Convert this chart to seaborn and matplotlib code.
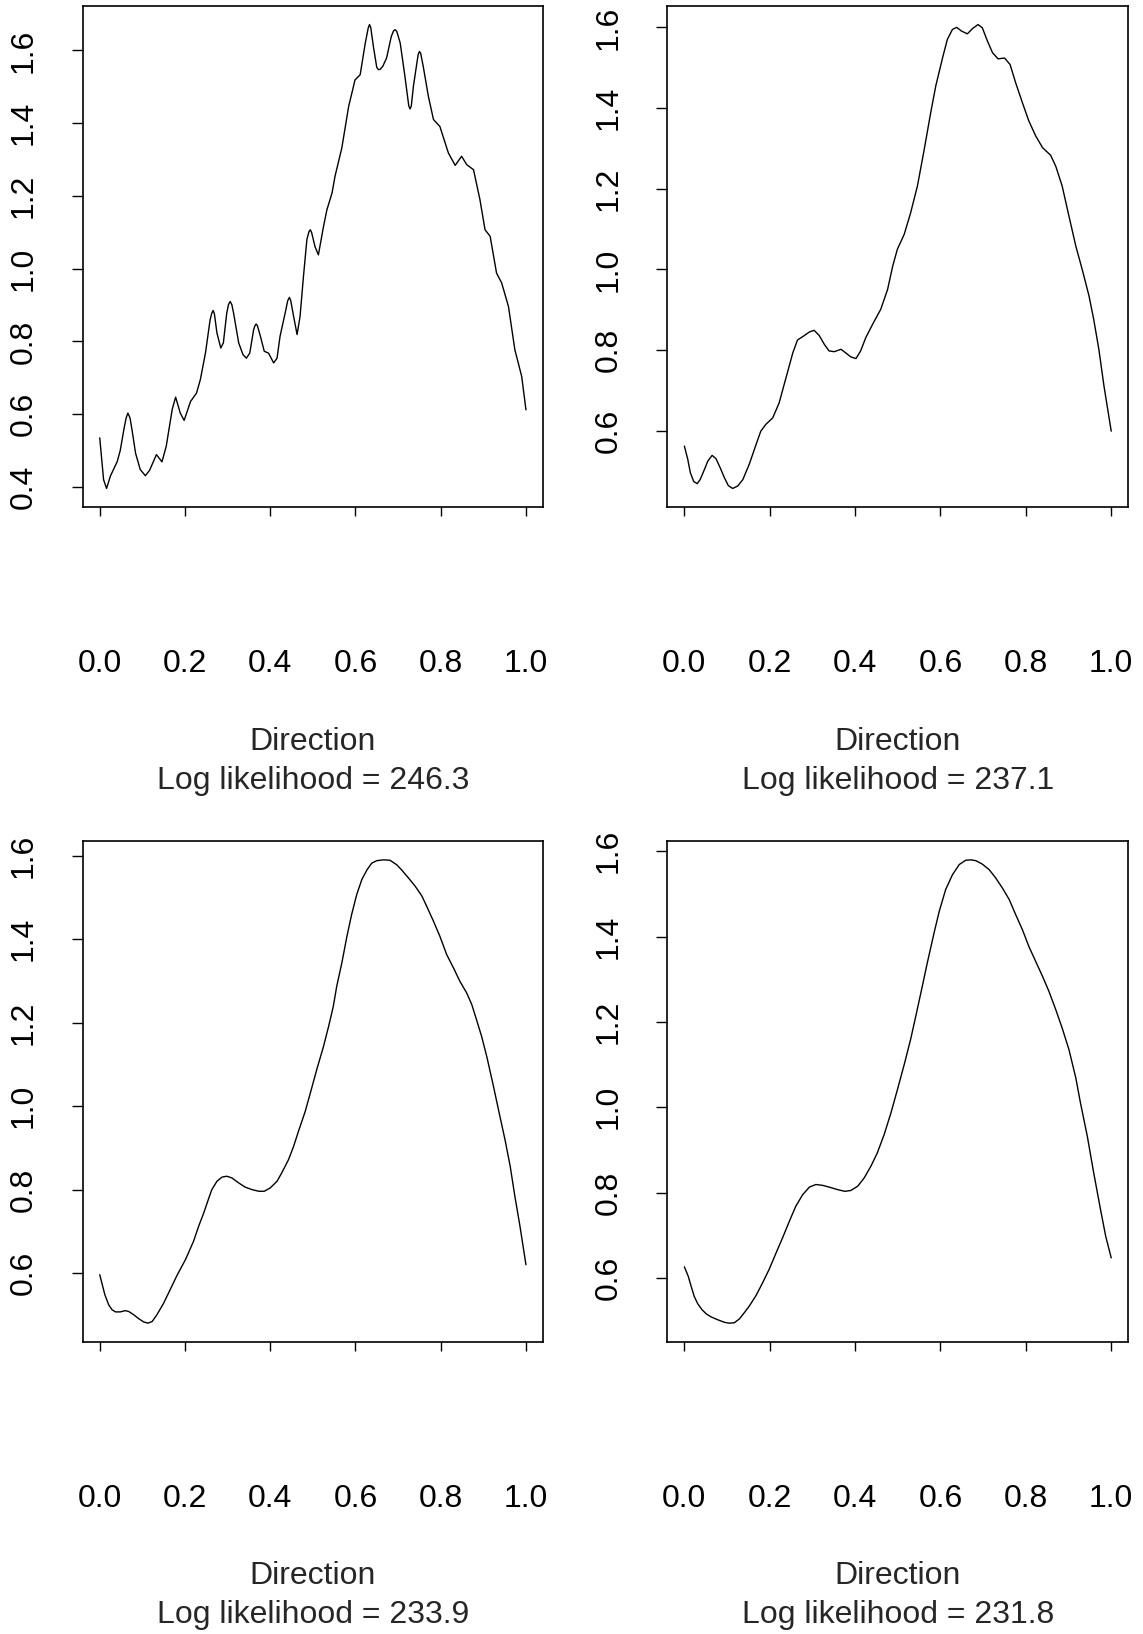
import matplotlib
matplotlib.use("Agg")
import matplotlib.pyplot as plt
import seaborn as sns
import pandas as pd

# Estimated density of direction under four model fits: (direction, density)
fit1 = [(0.000, 0.535), (0.009, 0.420), (0.016, 0.396), (0.025, 0.430), (0.041, 0.470),
        (0.048, 0.500), (0.058, 0.567), (0.062, 0.590), (0.066, 0.603), (0.071, 0.590),
        (0.076, 0.555), (0.084, 0.493), (0.095, 0.448), (0.107, 0.431), (0.117, 0.446),
        (0.133, 0.489), (0.146, 0.469), (0.156, 0.512), (0.170, 0.613), (0.178, 0.647),
        (0.189, 0.603), (0.198, 0.583), (0.213, 0.635), (0.227, 0.658), (0.236, 0.695),
        (0.248, 0.768), (0.259, 0.860), (0.263, 0.878), (0.266, 0.885), (0.269, 0.876),
        (0.275, 0.823), (0.284, 0.782), (0.290, 0.796), (0.298, 0.878), (0.302, 0.901),
        (0.306, 0.910), (0.310, 0.901), (0.314, 0.878), (0.326, 0.796), (0.336, 0.764),
        (0.344, 0.754), (0.352, 0.768), (0.361, 0.832), (0.364, 0.843), (0.367, 0.848),
        (0.370, 0.843), (0.377, 0.814), (0.386, 0.773), (0.396, 0.768), (0.408, 0.741),
        (0.416, 0.754), (0.423, 0.814), (0.435, 0.878), (0.441, 0.912), (0.445, 0.921),
        (0.448, 0.913), (0.455, 0.868), (0.463, 0.819), (0.470, 0.869), (0.478, 0.979),
        (0.486, 1.080), (0.491, 1.102), (0.494, 1.107), (0.497, 1.100), (0.505, 1.061),
        (0.513, 1.038), (0.525, 1.116), (0.533, 1.162), (0.545, 1.208), (0.552, 1.254),
        (0.568, 1.332), (0.584, 1.446), (0.599, 1.519), (0.611, 1.533), (0.623, 1.620),
        (0.630, 1.662), (0.633, 1.671), (0.636, 1.662), (0.642, 1.611), (0.650, 1.553),
        (0.654, 1.547), (0.658, 1.548), (0.664, 1.556), (0.673, 1.579), (0.684, 1.638),
        (0.689, 1.653), (0.693, 1.657), (0.697, 1.652), (0.705, 1.620), (0.716, 1.529),
        (0.725, 1.448), (0.728, 1.439), (0.731, 1.447), (0.736, 1.502), (0.747, 1.588),
        (0.750, 1.597), (0.753, 1.592), (0.759, 1.556), (0.771, 1.474), (0.783, 1.410),
        (0.798, 1.391), (0.818, 1.318), (0.834, 1.284), (0.849, 1.309), (0.861, 1.286),
        (0.877, 1.272), (0.892, 1.190), (0.904, 1.107), (0.916, 1.089), (0.931, 0.988),
        (0.943, 0.961), (0.959, 0.896), (0.974, 0.777), (0.990, 0.704), (1.000, 0.612)]

fit2 = [(0.000, 0.562), (0.008, 0.529), (0.014, 0.496), (0.022, 0.474), (0.030, 0.469),
        (0.037, 0.479), (0.047, 0.504), (0.055, 0.525), (0.065, 0.539), (0.074, 0.531),
        (0.084, 0.508), (0.094, 0.483), (0.103, 0.464), (0.113, 0.457), (0.125, 0.463),
        (0.137, 0.479), (0.152, 0.517), (0.168, 0.566), (0.179, 0.599), (0.191, 0.616),
        (0.207, 0.632), (0.222, 0.669), (0.238, 0.731), (0.254, 0.793), (0.265, 0.825),
        (0.281, 0.836), (0.293, 0.845), (0.304, 0.849), (0.316, 0.836), (0.328, 0.814),
        (0.339, 0.798), (0.351, 0.796), (0.367, 0.802), (0.378, 0.793), (0.390, 0.783),
        (0.402, 0.779), (0.413, 0.798), (0.425, 0.831), (0.441, 0.864), (0.460, 0.901),
        (0.476, 0.950), (0.488, 1.008), (0.499, 1.050), (0.515, 1.087), (0.530, 1.140),
        (0.546, 1.207), (0.562, 1.298), (0.577, 1.388), (0.589, 1.455), (0.605, 1.525),
        (0.616, 1.570), (0.628, 1.595), (0.638, 1.600), (0.649, 1.591), (0.663, 1.584),
        (0.675, 1.597), (0.688, 1.607), (0.698, 1.599), (0.710, 1.566), (0.722, 1.537),
        (0.735, 1.522), (0.750, 1.524), (0.763, 1.508), (0.776, 1.463), (0.792, 1.413),
        (0.807, 1.368), (0.823, 1.331), (0.839, 1.302), (0.858, 1.283), (0.870, 1.256),
        (0.885, 1.207), (0.901, 1.132), (0.917, 1.058), (0.932, 1.000), (0.948, 0.934),
        (0.959, 0.876), (0.971, 0.802), (0.983, 0.711), (1.000, 0.599)]

fit3 = [(0.000, 0.596), (0.006, 0.572), (0.012, 0.548), (0.021, 0.524), (0.029, 0.512),
        (0.037, 0.507), (0.048, 0.507), (0.060, 0.510), (0.068, 0.508), (0.080, 0.500),
        (0.091, 0.491), (0.103, 0.483), (0.113, 0.480), (0.123, 0.484), (0.134, 0.500),
        (0.150, 0.528), (0.166, 0.562), (0.181, 0.594), (0.201, 0.632), (0.220, 0.676),
        (0.232, 0.712), (0.244, 0.744), (0.256, 0.780), (0.263, 0.800), (0.275, 0.820),
        (0.287, 0.830), (0.298, 0.832), (0.310, 0.828), (0.326, 0.816), (0.341, 0.806),
        (0.357, 0.800), (0.373, 0.796), (0.386, 0.796), (0.400, 0.804), (0.416, 0.820),
        (0.427, 0.840), (0.443, 0.872), (0.455, 0.904), (0.466, 0.939), (0.482, 0.987),
        (0.494, 1.031), (0.509, 1.087), (0.525, 1.143), (0.537, 1.191), (0.548, 1.239),
        (0.556, 1.287), (0.568, 1.343), (0.580, 1.407), (0.591, 1.459), (0.603, 1.507),
        (0.615, 1.543), (0.627, 1.566), (0.638, 1.582), (0.650, 1.588), (0.666, 1.590),
        (0.681, 1.589), (0.697, 1.578), (0.709, 1.565), (0.724, 1.547), (0.740, 1.527),
        (0.756, 1.503), (0.767, 1.479), (0.783, 1.443), (0.798, 1.407), (0.814, 1.363),
        (0.830, 1.331), (0.845, 1.299), (0.861, 1.271), (0.873, 1.243), (0.884, 1.207),
        (0.896, 1.167), (0.908, 1.119), (0.923, 1.051), (0.939, 0.975), (0.951, 0.919),
        (0.963, 0.856), (0.974, 0.784), (0.986, 0.712), (1.000, 0.620)]

fit4 = [(0.000, 0.626), (0.009, 0.604), (0.016, 0.580), (0.023, 0.557), (0.031, 0.540),
        (0.041, 0.526), (0.051, 0.516), (0.062, 0.509), (0.078, 0.502), (0.094, 0.496),
        (0.105, 0.494), (0.117, 0.495), (0.129, 0.504), (0.140, 0.518), (0.152, 0.534),
        (0.168, 0.559), (0.183, 0.588), (0.199, 0.621), (0.215, 0.659), (0.230, 0.694),
        (0.246, 0.733), (0.261, 0.768), (0.277, 0.795), (0.293, 0.813), (0.308, 0.819),
        (0.324, 0.817), (0.339, 0.813), (0.359, 0.807), (0.376, 0.803), (0.390, 0.805),
        (0.406, 0.815), (0.421, 0.834), (0.437, 0.862), (0.452, 0.893), (0.468, 0.936),
        (0.484, 0.987), (0.499, 1.041), (0.515, 1.100), (0.530, 1.159), (0.542, 1.213),
        (0.554, 1.268), (0.569, 1.338), (0.585, 1.409), (0.597, 1.459), (0.612, 1.510),
        (0.628, 1.545), (0.644, 1.569), (0.659, 1.579), (0.671, 1.580), (0.683, 1.578),
        (0.698, 1.570), (0.714, 1.557), (0.729, 1.538), (0.745, 1.514), (0.761, 1.487),
        (0.776, 1.452), (0.792, 1.416), (0.807, 1.377), (0.823, 1.342), (0.839, 1.307),
        (0.854, 1.272), (0.870, 1.229), (0.885, 1.186), (0.901, 1.135), (0.917, 1.069),
        (0.928, 1.010), (0.944, 0.932), (0.959, 0.846), (0.975, 0.760), (0.987, 0.698),
        (1.000, 0.647)]

log_likelihoods = [246.3, 237.1, 233.9, 231.8]
x_ticks = [0.0, 0.2, 0.4, 0.6, 0.8, 1.0]
y_ticks = [0.4, 0.6, 0.8, 1.0, 1.2, 1.4, 1.6]

sns.set_style("ticks")
plt.rcParams["font.family"] = ["Liberation Sans", "DejaVu Sans"]
FS = 23

W, H = 1143, 1634
fig = plt.figure(figsize=(W / 100, H / 100), dpi=100)
fig.patch.set_facecolor("white")

# panel boxes in pixels: (left, top, right, bottom)
boxes = [(82.7, 6.0, 543.0, 507.0), (667.3, 6.0, 1128.3, 507.0),
         (82.7, 841.3, 543.0, 1341.7), (667.3, 841.3, 1128.3, 1341.7)]
fits = [fit1, fit2, fit3, fit4]

for (l, t, r, b), fit, ll in zip(boxes, fits, log_likelihoods):
    ax = fig.add_axes([l / W, 1 - b / H, (r - l) / W, (b - t) / H])
    df = pd.DataFrame(fit, columns=["Direction", "Density"])
    sns.lineplot(data=df, x="Direction", y="Density", ax=ax, color="black",
                 linewidth=1.0, estimator=None, sort=False)
    lo, hi = df["Density"].min(), df["Density"].max()
    pad = 0.04 * (hi - lo)
    ax.set_ylim(lo - pad, hi + pad)
    ax.set_xlim(-0.04, 1.04)
    ax.set_xticks(x_ticks)
    ax.set_xticklabels([f"{v:.1f}" for v in x_ticks])
    yt = [v for v in y_ticks if lo - pad <= v <= hi + pad]
    ax.set_yticks(yt)
    ax.set_yticklabels([f"{v:.1f}" for v in yt], rotation=90, va="center")
    ax.tick_params(axis="x", direction="out", length=6.5, width=1.0,
                   pad=96, labelsize=FS, colors="black")
    ax.tick_params(axis="y", direction="out", length=7.9, width=1.0,
                   pad=23.5, labelsize=FS, colors="black")
    for s in ax.spines.values():
        s.set_visible(True)
        s.set_color("black")
        s.set_linewidth(1.2)
    ax.set_ylabel("")
    ax.set_xlabel(f"Direction\nLog likelihood = {ll}", fontsize=FS,
                  linespacing=1.39, va="top")
    ax.xaxis.set_label_coords(0.5, -219.7 / (b - t))
    ax.set_facecolor("white")

fig.savefig("out.png", dpi=100, facecolor="white")
